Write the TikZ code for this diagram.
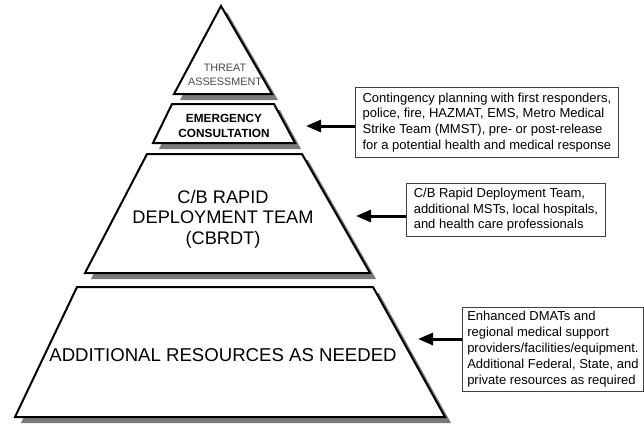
\documentclass[tikz,border=0pt]{standalone}
\usepackage{fontspec}
\setmainfont{Liberation Sans}
\usetikzlibrary{arrows.meta}
\definecolor{threatgray}{RGB}{74,74,74}
\definecolor{boxborder}{RGB}{64,64,64}
\tikzset{
  tier/.style={draw=black, line width=2pt, fill=white, line join=miter},
  tiershadow/.style={fill=black!52},
  infobox/.style={draw=boxborder, line width=0.8pt, fill=white, align=left,
    font=\fontsize{13}{15.7}\selectfont, anchor=north west, inner sep=0pt},
  pointer/.style={line width=3pt, -{Triangle[length=15pt,width=12pt]}},
  tiertext/.style={align=center, inner sep=0pt}
}
\begin{document}
\begin{tikzpicture}[x=1pt,y=-1pt]
\useasboundingbox[fill=white] (0,0) rectangle (644,424);
% shadows
\fill[tiershadow] (227,12) -- (278,100) -- (180,100) -- cycle;
\fill[tiershadow] (178,110) -- (280,110) -- (301,149) -- (159,149) -- cycle;
\fill[tiershadow] (153,160) -- (308,160) -- (376,279) -- (91,279) -- cycle;
\fill[tiershadow] (83,293) -- (379,293) -- (451,423) -- (21,423) -- cycle;
% tiers
\draw[tier] (221,6) -- (272,94) -- (174,94) -- cycle;
\draw[tier] (172,104) -- (274,104) -- (295,143) -- (153,143) -- cycle;
\draw[tier] (147,154) -- (302,154) -- (370,273) -- (85,273) -- cycle;
\draw[tier] (77,287) -- (373,287) -- (445,417) -- (15,417) -- cycle;
% tier texts
\node[tiertext, text=threatgray, font=\fontsize{10.8}{13.4}\selectfont] (threat) at (225,75) {THREAT\\ASSESSMENT};
\node[tiertext, font=\bfseries\fontsize{11.8}{14.2}\selectfont] (emerg) at (224,126) {EMERGENCY\\CONSULTATION};
\node[tiertext, font=\fontsize{18.2}{20.6}\selectfont] (cbrdt) at (223,219) {C/B RAPID\\DEPLOYMENT TEAM\\(CBRDT)};
\node[tiertext, font=\fontsize{18.6}{22}\selectfont] (addl) at (223,355) {ADDITIONAL RESOURCES AS NEEDED};
% info boxes
\node[infobox, minimum width=263pt, minimum height=70pt] (b1) at (355,87)
  {Contingency planning with first responders,\\police, fire, HAZMAT, EMS, Metro Medical\\Strike Team (MMST), pre- or post-release\\for a potential health and medical response};
\node[infobox, minimum width=199pt, minimum height=53pt] (b2) at (406,183)
  {C/B Rapid Deployment Team,\\additional MSTs, local hospitals,\\and health care professionals};
\node[infobox, minimum width=181pt, minimum height=84pt, font=\fontsize{13}{16}\selectfont] (b3) at (462,307)
  {Enhanced DMATs and\\regional medical support\\providers/facilities/equipment.\\Additional Federal, State, and\\private resources as required};
% arrows
\coordinate (t1) at (306,126);
\coordinate (t2) at (356,216);
\coordinate (t3) at (418,339);
\draw[pointer] (b1.west |- t1) -- (t1);
\draw[pointer] (b2.west |- t2) -- (t2);
\draw[pointer] (b3.west |- t3) -- (t3);
\end{tikzpicture}
\end{document}
